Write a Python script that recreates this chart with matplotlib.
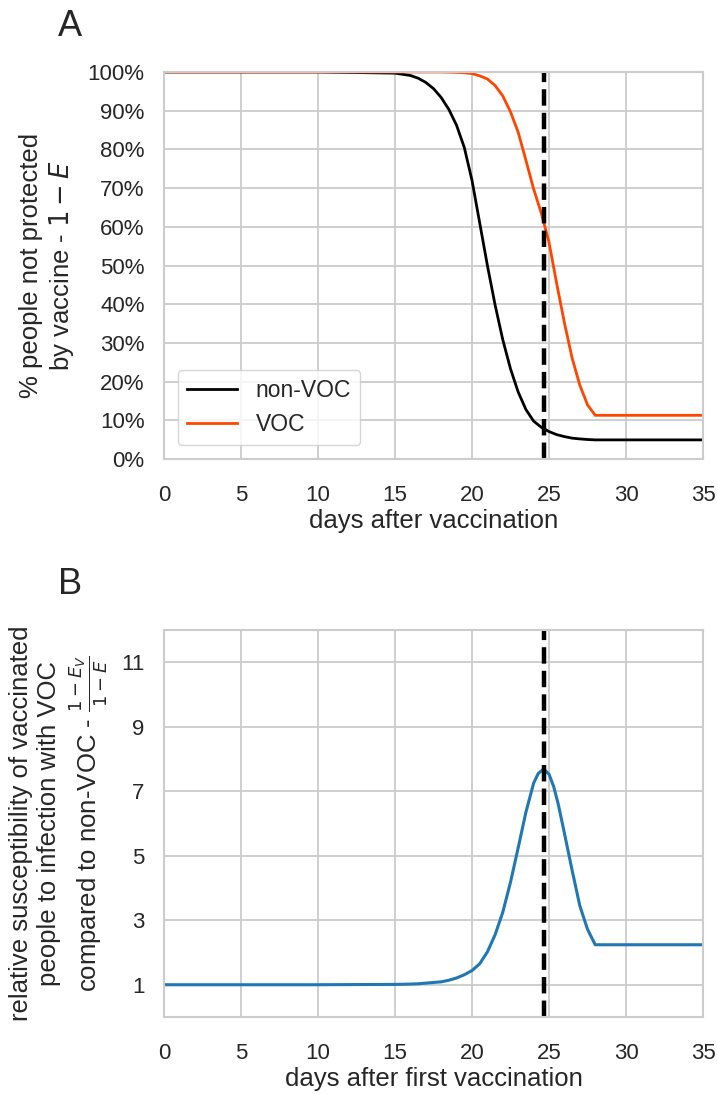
import matplotlib
matplotlib.use("Agg")
import matplotlib.pyplot as plt
from matplotlib.ticker import PercentFormatter

# values
# panel A: % of people not protected by vaccine (1 - E)
days_nonvoc = [0, 5, 10, 15, 16, 16.5, 17, 17.5, 18, 18.5, 19, 19.5, 20, 20.5,
               21, 21.5, 22, 22.5, 23, 23.5, 24, 24.5, 25, 25.5, 26, 26.5, 27,
               27.5, 28, 35]
nonvoc = [100, 100, 100, 99.7, 99.1, 98.4, 97.3, 95.7, 93.4, 90.3, 86.2, 80.5,
          72.0, 61.0, 50.0, 39.8, 30.8, 23.3, 17.3, 12.8, 9.8, 8.2, 7.1, 6.3,
          5.8, 5.4, 5.2, 5.05, 4.95, 4.95]
days_voc = [0, 5, 10, 15, 18, 19, 19.5, 20, 20.5, 21, 21.5, 22, 22.5, 23, 23.5,
            24, 24.5, 25, 25.5, 26, 26.5, 27, 27.5, 28, 35]
voc = [100, 100, 100, 100, 100, 99.9, 99.8, 99.6, 99.0, 98.2, 96.5, 93.8, 89.7,
       84.4, 77.2, 69.8, 63.5, 56.0, 45.3, 35.2, 26.1, 19.1, 14.0, 11.3, 11.3]

# panel B: relative susceptibility (1 - E_V) / (1 - E)
days_rel = [0, 5, 10, 15, 16, 16.5, 17, 17.5, 18, 18.5, 19, 19.5, 20, 20.5, 21,
            21.5, 22, 22.5, 23, 23.5, 24, 24.3, 24.65, 25, 25.3, 25.6, 26, 26.5,
            27, 27.5, 28, 35]
rel_susc = [1.0, 1.0, 1.0, 1.01, 1.02, 1.03, 1.05, 1.07, 1.09, 1.14, 1.21, 1.31,
            1.44, 1.65, 2.02, 2.55, 3.25, 4.18, 5.25, 6.35, 7.25, 7.55, 7.69,
            7.53, 7.15, 6.6, 5.7, 4.55, 3.45, 2.72, 2.24, 2.24]

second_dose = 24.7
x_ticks = [0, 5, 10, 15, 20, 25, 30, 35]
a_ticks = [0, 10, 20, 30, 40, 50, 60, 70, 80, 90, 100]
b_ticks = [1, 3, 5, 7, 9, 11]

INK = "#262626"
plt.rcParams.update({
    "font.family": ["Liberation Sans", "DejaVu Sans"],
    "font.size": 16,
    "text.color": INK,
    "axes.labelcolor": INK,
    "xtick.color": INK,
    "ytick.color": INK,
    "axes.edgecolor": "#cccccc",
    "axes.linewidth": 1.5,
    "grid.color": "#cccccc",
    "grid.linewidth": 1.3,
    "xtick.major.size": 0,
    "ytick.major.size": 0,
    "xtick.major.pad": 19,
    "ytick.major.pad": 14,
    "lines.solid_joinstyle": "round",
})

fig = plt.figure(figsize=(7.17, 10.94), dpi=100)
ax_a = fig.add_axes([0.2287, 0.5804, 0.7518, 0.3538])
ax_b = fig.add_axes([0.2287, 0.0704, 0.7518, 0.3537])

for ax in (ax_a, ax_b):
    ax.grid(True)
    ax.set_axisbelow(True)
    ax.set_xlim(0, 35)
    ax.set_xticks(x_ticks)
    ax.tick_params(labelsize=16)

ax_a.plot(days_nonvoc, nonvoc, color="black", lw=2.0, label="non-VOC")
ax_a.plot(days_voc, voc, color="#ff4500", lw=2.0, label="VOC")
ax_a.axvline(second_dose, color="black", lw=3.2, ls="--")
ax_a.set_ylim(0, 100)
ax_a.set_yticks(a_ticks)
ax_a.yaxis.set_major_formatter(PercentFormatter(100, decimals=0))
ax_a.set_xlabel("days after vaccination", fontsize=18.5, labelpad=2)
ax_a.set_ylabel("% people not protected\nby vaccine - $1-E$", fontsize=18.5, labelpad=8)
ax_a.legend(loc="lower left", fontsize=16.5, frameon=True, edgecolor="#cccccc",
            handlelength=2.2, borderaxespad=0.6)

ax_b.plot(days_rel, rel_susc, color="#1f77b4", lw=2.2)
ax_b.axvline(second_dose, color="black", lw=3.2, ls="--")
ax_b.set_ylim(0, 12)
ax_b.set_yticks(b_ticks)
ax_b.set_xlabel("days after first vaccination", fontsize=18.5, labelpad=2)
ax_b.set_ylabel("relative susceptibility of vaccinated\npeople to infection with VOC\n"
                r"compared to non-VOC - $\frac{1-E_V}{1-E}$", fontsize=18.5, labelpad=8)

fig.text(0.081, 0.992, "A", fontsize=26, va="top", ha="left")
fig.text(0.081, 0.482, "B", fontsize=26, va="top", ha="left")

fig.savefig("out.png", dpi=100, facecolor="white")
